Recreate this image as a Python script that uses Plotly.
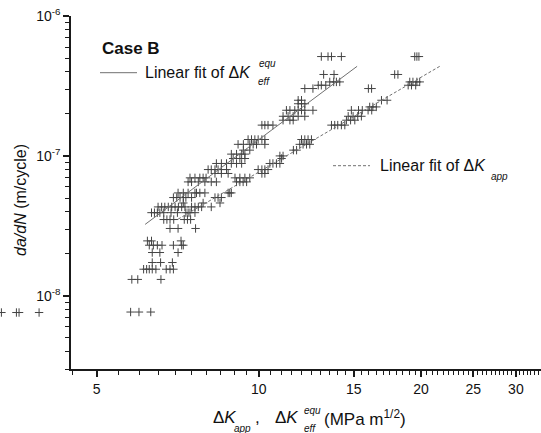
import math
import plotly.graph_objects as go

# ---------------- data ----------------
# Delta K_eff^equ series (upper-left cloud, incl. low-rate points)
eff_dk = [
    5.78, 5.99, 6.30,
    5.81, 5.96, 6.58,
    6.11, 6.19, 6.26, 6.34, 6.44, 6.73, 6.84, 6.94,
    6.34, 6.57, 6.91,
    6.34, 6.55, 7.08,
    6.26, 6.37, 6.48, 6.61, 6.94, 7.19, 7.24,
    6.21, 6.32, 7.17,
    6.84, 7.08, 7.63,
    6.66, 6.75, 6.84, 6.95,
    6.32, 6.40, 6.48, 6.55, 6.66, 6.87, 7.06,
    6.50, 6.60, 6.69, 6.79, 6.89, 6.99, 7.09, 7.19, 7.29,
    7.24,
    6.94, 7.04, 7.14, 7.24, 7.32, 7.50,
    7.08, 7.24, 7.39, 7.61, 7.66, 7.77, 7.94,
    7.39, 7.50, 7.72, 7.94, 8.16, 8.34,
    7.45, 7.61, 7.77, 7.88, 7.98,
    8.29, 8.52, 8.77,
    8.05, 8.16, 8.29, 8.40, 8.52, 8.71,
    8.34, 8.52, 8.71, 8.89, 9.09, 9.29,
    8.96, 9.22, 9.42,
    8.89, 9.09, 9.29, 9.42,
    9.36, 9.62,
    9.15, 9.36, 9.62, 9.76, 9.90, 10.26,
    9.55, 9.69, 9.83, 9.97, 10.13, 10.26,
    10.13, 10.26, 10.40, 10.62,
    11.09, 11.42, 11.58,
    11.09, 11.33, 11.58, 11.83, 12.17,
    11.25, 11.42, 11.66, 11.83, 12.00, 12.17, 12.60,
    11.83, 12.00, 12.17,
    11.83, 12.00,
    12.17, 12.60,
    12.89, 13.06, 13.31,
    13.54, 13.77, 13.93, 14.13,
    13.19, 13.79,
    13.06, 13.44, 13.64, 14.23,
]
eff_rate = (
    [7.66e-9] * 3 + [1.31e-8] * 3 + [1.55e-8] * 8 + [1.73e-8] * 3 + [2.04e-8] * 3
    + [2.30e-8] * 7 + [2.47e-8] * 3 + [3.03e-8] * 3 + [3.51e-8] * 4 + [3.93e-8] * 7
    + [4.32e-8] * 9 + [4.61e-8] * 1 + [5.04e-8] * 6 + [5.44e-8] * 7 + [6.52e-8] * 6
    + [6.97e-8] * 5 + [7.49e-8] * 3 + [7.99e-8] * 6 + [8.83e-8] * 6 + [9.58e-8] * 3
    + [1.03e-7] * 4 + [1.10e-7] * 2 + [1.21e-7] * 6 + [1.31e-7] * 6 + [1.66e-7] * 4
    + [1.80e-7] * 3 + [1.92e-7] * 5 + [2.12e-7] * 7 + [2.36e-7] * 3 + [2.50e-7] * 2
    + [3.03e-7] * 2 + [3.20e-7] * 3 + [3.38e-7] * 4 + [3.82e-7] * 2 + [5.13e-7] * 4
)

# points lying left of the axis origin (drawn outside the frame in the picture)
out_dk = [3.33, 3.55, 3.59, 3.91]
out_rate = [7.6e-9, 7.6e-9, 7.6e-9, 7.6e-9]

# Delta K_app series (lower-right cloud)
app_dk = [
    7.27, 7.37, 7.47,
    7.32, 7.39, 7.45, 7.61,
    7.50, 7.61, 7.72, 7.83, 8.16,
    7.88, 8.47,
    8.29, 8.40, 8.52,
    8.77, 8.83, 8.89,
    9.09, 9.22, 9.35, 9.49,
    9.03, 9.22, 9.42, 9.62,
    10.13, 10.26,
    9.97, 10.13, 10.26, 10.40,
    10.48, 10.62, 10.78, 10.94,
    11.02,
    10.94, 11.09,
    11.59, 11.75,
    11.91, 12.08, 12.26, 12.43,
    12.00, 12.17, 12.34, 12.52,
    13.64, 13.83, 14.01, 14.23, 14.44,
    14.54, 14.80, 15.07,
    14.65, 14.96, 15.26, 15.50,
    14.85, 15.31, 15.56, 15.95, 16.20,
    16.06, 16.28, 16.52,
    16.89, 17.30,
    15.97, 16.19,
    18.93, 19.20, 19.55,
    19.06, 19.32, 19.65, 19.89,
    17.87, 18.12,
    19.47, 19.65, 19.82,
]
app_rate = (
    [3.51e-8] * 3 + [3.93e-8] * 4 + [4.32e-8] * 5 + [4.61e-8] * 2 + [5.04e-8] * 3
    + [5.44e-8] * 3 + [6.52e-8] * 4 + [6.97e-8] * 4 + [7.49e-8] * 2 + [7.99e-8] * 4
    + [8.83e-8] * 4 + [9.58e-8] * 1 + [1.00e-7] * 2 + [1.10e-7] * 2 + [1.21e-7] * 4
    + [1.31e-7] * 4 + [1.66e-7] * 5 + [1.80e-7] * 3 + [1.92e-7] * 4 + [2.12e-7] * 5
    + [2.24e-7] * 3 + [2.50e-7] * 2 + [3.03e-7] * 2 + [3.20e-7] * 3 + [3.38e-7] * 4
    + [3.82e-7] * 2 + [5.13e-7] * 3
)

# linear fits (end points)
fit_eff_dk = [6.15, 15.22]
fit_eff_rate = [3.24e-8, 4.37e-7]
fit_app_dk = [7.08, 21.67]
fit_app_rate = [3.53e-8, 4.37e-7]

x_tick_vals = [5, 10, 15, 20, 25, 30]
x_tick_text = ["5", "10", "15", "20", "25", "30"]
y_tick_vals = [1e-8, 1e-7, 1e-6]
y_tick_text = ["10<sup>-8</sup>", "10<sup>-7</sup>", "10<sup>-6</sup>"]

# ---------------- figure ----------------
FONT = "Liberation Sans, Arial, Helvetica, sans-serif"
W, H = 541, 433
AX_LEFT = 71          # pixel column of the y axis
MT, MB = 16, 64
PH = H - MT - MB
X_MIN, X_MAX = 4.48, 33.4
X_OUT_MIN = 3.31      # value that falls at the left page edge


def fx(px):
    return px / W


def fy(py):
    return (H - MB - py) / PH


mark = dict(symbol="cross-thin", size=6, line=dict(width=1, color="#444444"), color="#444444")

fig = go.Figure()
fig.add_trace(go.Scatter(x=eff_dk, y=eff_rate, mode="markers", marker=mark, cliponaxis=False))
fig.add_trace(go.Scatter(x=app_dk, y=app_rate, mode="markers", marker=mark, cliponaxis=False))
fig.add_trace(go.Scatter(x=out_dk, y=out_rate, mode="markers", marker=mark, cliponaxis=False,
                         xaxis="x2", yaxis="y"))
fig.add_trace(go.Scatter(x=fit_eff_dk, y=fit_eff_rate, mode="lines",
                         line=dict(color="#707070", width=1)))
fig.add_trace(go.Scatter(x=fit_app_dk, y=fit_app_rate, mode="lines",
                         line=dict(color="#707070", width=1, dash="3px,2px")))

minor_x = [v / 2 for v in range(9, 67) if (v / 2) not in x_tick_vals]
minor_y = [m * 10.0 ** e for e in (-9, -8, -7) for m in range(2, 10)
           if 3e-9 <= m * 10.0 ** e < 1e-6]

axis_common = dict(showline=True, linecolor="#1a1a1a", linewidth=1.5, showgrid=False,
                   zeroline=False, ticks="outside", ticklen=6, tickwidth=1.5,
                   tickcolor="#1a1a1a", tickfont=dict(size=14, color="#111", family=FONT))

fig.update_layout(
    width=W, height=H, margin=dict(l=0, r=0, t=MT, b=MB, pad=0),
    paper_bgcolor="white", plot_bgcolor="white", showlegend=False,
    font=dict(family=FONT, size=14, color="#111"),
    xaxis=dict(type="log", domain=[AX_LEFT / W, 1],
               range=[math.log10(X_MIN), math.log10(X_MAX)],
               tickmode="array", tickvals=x_tick_vals, ticktext=x_tick_text,
               minor=dict(tickmode="array", tickvals=minor_x, ticks="outside", ticklen=4,
                          tickwidth=1, tickcolor="#1a1a1a", showgrid=False),
               **axis_common),
    xaxis2=dict(type="log", domain=[0, AX_LEFT / W], anchor="y",
                range=[math.log10(X_OUT_MIN), math.log10(X_MIN)], visible=False),
    yaxis=dict(type="log", range=[math.log10(3e-9), -6],
               tickmode="array", tickvals=y_tick_vals, ticktext=y_tick_text,
               minor=dict(tickmode="array", tickvals=minor_y, ticks="outside", ticklen=4,
                          tickwidth=1, tickcolor="#1a1a1a", showgrid=False),
               **axis_common),
)

ann = []


def txt(text, px, py, size, anchor="left", **kw):
    ann.append(dict(text=text, x=fx(px), y=fy(py), xref="paper", yref="paper",
                    xanchor=anchor, yanchor="middle", showarrow=False,
                    font=dict(family=FONT, size=size, color="#111"), **kw))


# y axis title
txt("<i>da/dN</i> (m/cycle)", 20, 200, 16, anchor="center", textangle=-90)

# x axis title, built from pieces so that sub/superscripts stack
txt("Δ<i>K</i>", 211, 418, 17)
txt("<i>app</i>", 232, 428, 10)
txt(",", 253, 418, 17)
txt("Δ<i>K</i>", 273, 418, 17)
txt("<i>equ</i>", 302, 410, 10)
txt("<i>eff</i>", 302, 428, 10)
txt("(MPa m<sup>1/2</sup>)", 322, 418, 17)

# legend-like labels
txt("<b>Case B</b>", 100, 48, 17)
txt("Linear fit of Δ<i>K</i>", 143, 72, 16)
txt("<i>equ</i>", 257, 64, 10)
txt("<i>eff</i>", 256, 81, 10)
txt("Linear fit of Δ<i>K</i>", 378, 165.5, 16)
txt("<i>app</i>", 489, 176, 10)

fig.update_layout(annotations=ann)

fig.add_shape(type="line", xref="paper", yref="paper", x0=fx(100), x1=fx(137),
              y0=fy(72.7), y1=fy(72.7), line=dict(color="#707070", width=1))
fig.add_shape(type="line", xref="paper", yref="paper", x0=fx(333), x1=fx(370),
              y0=fy(165.7), y1=fy(165.7), line=dict(color="#707070", width=1, dash="3px,2px"))

fig.write_html("out.html")
